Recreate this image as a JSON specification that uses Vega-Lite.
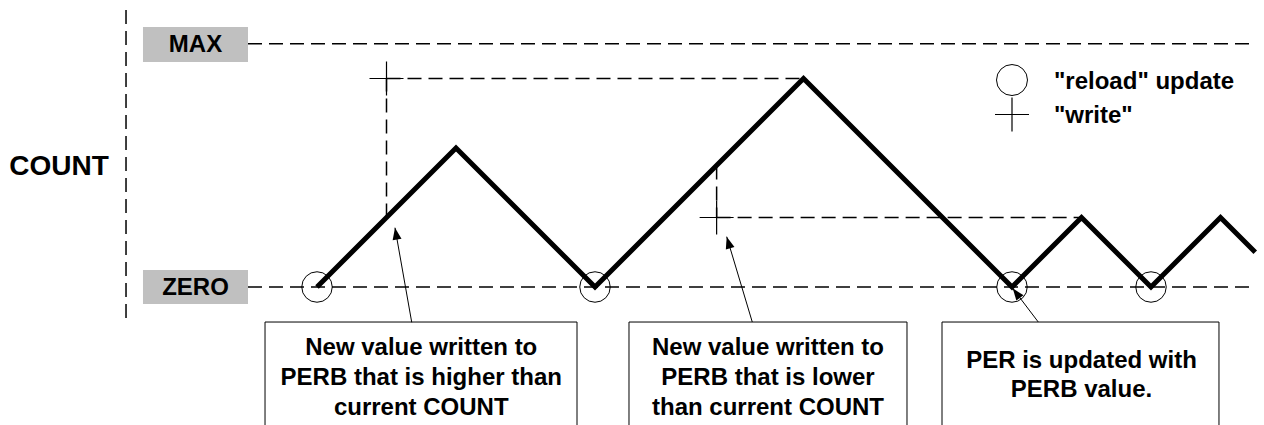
{
  "$schema": "https://vega.github.io/schema/vega-lite/v6.json",
  "width": 1264,
  "height": 425,
  "padding": 0,
  "autosize": {"type": "none"},
  "background": "white",
  "config": {
    "view": {"stroke": null},
    "text": {"font": "Liberation Sans", "fontWeight": "bold", "color": "black"}
  },
  "datasets": {
    "waveform": [
      {"t": 0, "c": 0}, {"t": 2, "c": 2}, {"t": 4, "c": 0}, {"t": 7, "c": 3},
      {"t": 10, "c": 0}, {"t": 11, "c": 1}, {"t": 12, "c": 0}, {"t": 13, "c": 1},
      {"t": 13.5, "c": 0.5}
    ],
    "reloads": [
      {"t": 0, "c": 0}, {"t": 4, "c": 0}, {"t": 10, "c": 0}, {"t": 12, "c": 0}
    ],
    "writes": [
      {"t": 1, "c": 3}, {"t": 5.75, "c": 1}
    ],
    "guides": [
      {"t": -2.748, "c": -0.446, "t2": -2.748, "c2": 3.986},
      {"t": -0.993, "c": 3.5, "t2": 13.496, "c2": 3.5},
      {"t": -0.993, "c": 0, "t2": 13.496, "c2": 0},
      {"t": 1, "c": 1, "t2": 1, "c2": 3},
      {"t": 1, "c": 3, "t2": 7, "c2": 3},
      {"t": 5.75, "c": 1.75, "t2": 5.75, "c2": 1},
      {"t": 5.75, "c": 1, "t2": 11, "c2": 1}
    ],
    "levels": [
      {"label": "MAX", "t": -2.504, "t2": -0.993, "c": 3.237, "c2": 3.741, "tc": -1.748, "cb": 3.381},
      {"label": "ZERO", "t": -2.504, "t2": -0.993, "c": -0.245, "c2": 0.245, "tc": -1.748, "cb": -0.115}
    ],
    "notes": [
      {"t": -0.748, "t2": 3.741, "c": -0.504, "c2": -2.6},
      {"t": 4.489, "t2": 8.489, "c": -0.504, "c2": -2.6},
      {"t": 8.993, "t2": 12.978, "c": -0.504, "c2": -2.6}
    ],
    "noteLines": [
      {"text": "New value written to", "t": 1.5, "c": -0.978},
      {"text": "PERB that is higher than", "t": 1.5, "c": -1.41},
      {"text": "current COUNT", "t": 1.5, "c": -1.842},
      {"text": "New value written to", "t": 6.489, "c": -0.978},
      {"text": "PERB that is lower", "t": 6.489, "c": -1.41},
      {"text": "than current COUNT", "t": 6.489, "c": -1.842},
      {"text": "PER is updated with", "t": 11, "c": -1.165},
      {"text": "PERB value.", "t": 11, "c": -1.583}
    ],
    "arrows": [
      {"t": 1.363, "c": -0.508, "t2": 1.122, "c2": 0.853},
      {"t": 6.263, "c": -0.504, "t2": 5.895, "c2": 0.724},
      {"t": 10.378, "c": -0.504, "t2": 10.01, "c2": -0.019}
    ],
    "legendReload": [{"t": 10, "c": 2.978}],
    "legendWrite": [{"t": 10, "c": 2.482}],
    "legendText": [
      {"text": "\"reload\" update", "t": 10.604, "c": 2.849},
      {"text": "\"write\"", "t": 10.604, "c": 2.36}
    ],
    "axisLabel": [{"text": "COUNT", "t": -3.712, "c": 1.612}]
  },
  "encoding": {
    "x": {"field": "t", "type": "quantitative", "scale": {"domain": [-4.5612, 13.6259], "nice": false, "zero": false}, "axis": null},
    "y": {"field": "c", "type": "quantitative", "scale": {"domain": [-1.9856, 4.1295], "nice": false, "zero": false}, "axis": null}
  },
  "layer": [
    {
      "data": {"name": "guides"},
      "mark": {"type": "rule", "color": "black", "strokeWidth": 1.5, "strokeDash": [14, 7], "opacity": 1},
      "encoding": {"x2": {"field": "t2"}, "y2": {"field": "c2"}}
    },
    {
      "data": {"name": "levels"},
      "mark": {"type": "rect", "fill": "#c0c0c0", "opacity": 1},
      "encoding": {"x2": {"field": "t2"}, "y2": {"field": "c2"}}
    },
    {
      "data": {"name": "levels"},
      "mark": {"type": "text", "fontSize": 24, "align": "center", "baseline": "alphabetic"},
      "encoding": {
        "x": {"field": "tc", "type": "quantitative"},
        "y": {"field": "cb", "type": "quantitative"},
        "text": {"field": "label"}
      }
    },
    {
      "data": {"name": "notes"},
      "mark": {"type": "rect", "fill": "white", "stroke": "black", "strokeWidth": 1, "clip": true, "opacity": 1},
      "encoding": {"x2": {"field": "t2"}, "y2": {"field": "c2"}}
    },
    {
      "data": {"name": "noteLines"},
      "mark": {"type": "text", "fontSize": 24, "align": "center", "baseline": "alphabetic"},
      "encoding": {"text": {"field": "text"}}
    },
    {
      "data": {"name": "arrows"},
      "mark": {"type": "rule", "color": "black", "strokeWidth": 1, "opacity": 1},
      "encoding": {"x2": {"field": "t2"}, "y2": {"field": "c2"}}
    },
    {
      "data": {"values": [{"t": 1.122, "c": 0.853}]},
      "mark": {"type": "point", "shape": "M0,0L-0.45,1.2L0.45,1.2Z", "size": 400, "filled": true, "color": "black", "opacity": 1, "angle": 350}
    },
    {
      "data": {"values": [{"t": 5.895, "c": 0.724}]},
      "mark": {"type": "point", "shape": "M0,0L-0.45,1.2L0.45,1.2Z", "size": 400, "filled": true, "color": "black", "opacity": 1, "angle": 343.3}
    },
    {
      "data": {"values": [{"t": 10.01, "c": -0.019}]},
      "mark": {"type": "point", "shape": "M0,0L-0.45,1.2L0.45,1.2Z", "size": 400, "filled": true, "color": "black", "opacity": 1, "angle": 322.8}
    },
    {
      "data": {"name": "waveform"},
      "mark": {"type": "line", "color": "black", "strokeWidth": 5, "strokeJoin": "miter", "opacity": 1}
    },
    {
      "data": {"name": "reloads"},
      "mark": {"type": "point", "shape": "circle", "size": 930, "filled": false, "color": "black", "strokeWidth": 1, "opacity": 1}
    },
    {
      "data": {"name": "writes"},
      "mark": {"type": "point", "shape": "M-1,0H1M0,-1V1", "size": 1156, "filled": false, "color": "black", "strokeWidth": 1.2, "opacity": 1}
    },
    {
      "data": {"name": "legendReload"},
      "mark": {"type": "point", "shape": "circle", "size": 960, "filled": false, "color": "black", "strokeWidth": 1, "opacity": 1}
    },
    {
      "data": {"name": "legendWrite"},
      "mark": {"type": "point", "shape": "M-1,0H1M0,-1V1", "size": 1156, "filled": false, "color": "black", "strokeWidth": 1.2, "opacity": 1}
    },
    {
      "data": {"name": "legendText"},
      "mark": {"type": "text", "fontSize": 24, "align": "left", "baseline": "alphabetic"},
      "encoding": {"text": {"field": "text"}}
    },
    {
      "data": {"name": "axisLabel"},
      "mark": {"type": "text", "fontSize": 28, "align": "center", "baseline": "alphabetic"},
      "encoding": {"text": {"field": "text"}}
    }
  ]
}
